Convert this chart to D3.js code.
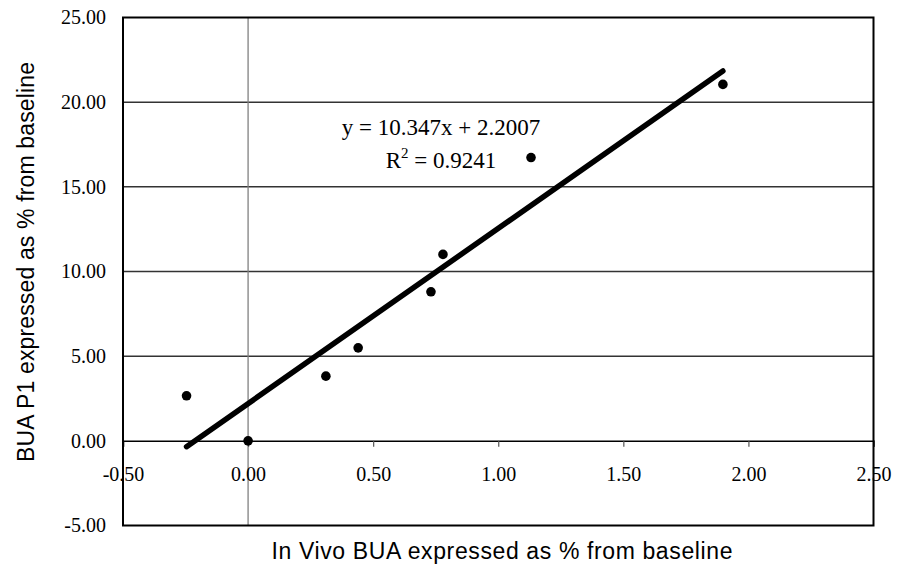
<!DOCTYPE html>
<html>
<head>
<meta charset="utf-8">
<script src="https://cdn.jsdelivr.net/npm/d3@7"></script>
<style>
  body { margin: 0; background: #fff; }
  svg { display: block; }
</style>
</head>
<body>
<svg id="chart" width="904" height="574"></svg>
<script>
// data
const xVals = [-0.246, 0.0, 0.311, 0.44, 0.731, 0.779, 1.131, 1.898];
const yVals = [2.66, 0.0, 3.82, 5.49, 8.80, 11.01, 16.73, 21.05];
const xTicks = [-0.5, 0, 0.5, 1.0, 1.5, 2.0, 2.5];
const yTicks = [-5, 0, 5, 10, 15, 20, 25];
const slope = 10.347;
const intercept = 2.2007;
const rSquared = '0.9241';

const svg = d3.select('#chart');
const plotL = 123, plotR = 873.5, plotT = 17.5, plotB = 525.5;

const x = d3.scaleLinear().domain([-0.5, 2.5]).range([plotL, plotR]);
const y = d3.scaleLinear().domain([-5, 25]).range([plotB, plotT]);

const serif = 'Liberation Serif, Times New Roman, serif';
const sans = 'Liberation Sans, Arial, sans-serif';
// plain hyphen for negatives, like the original
const fmt = d => d.toFixed(2);

// horizontal gridlines
svg.append('g')
  .selectAll('line')
  .data(yTicks.filter(d => d > 0 && d < 25))
  .join('line')
  .attr('x1', plotL)
  .attr('x2', plotR)
  .attr('y1', d => y(d))
  .attr('y2', d => y(d))
  .attr('stroke', '#333')
  .attr('stroke-width', 1.5);

// vertical line at x = 0
svg.append('line')
  .attr('x1', x(0))
  .attr('x2', x(0))
  .attr('y1', plotT)
  .attr('y2', plotB)
  .attr('stroke', '#808080')
  .attr('stroke-width', 1.3);

// x axis through y = 0
const xAxis = d3.axisBottom(x)
  .tickValues(xTicks)
  .tickSize(6)
  .tickFormat(fmt);
const gx = svg.append('g')
  .attr('transform', `translate(0,${y(0)})`)
  .call(xAxis);
gx.select('.domain').attr('stroke', '#000').attr('stroke-width', 1.5);
gx.selectAll('.tick line').attr('stroke', '#555').attr('stroke-width', 1.2);
gx.selectAll('.tick text')
  .attr('y', 40)
  .attr('dy', 0)
  .style('font-family', serif)
  .style('font-size', '20px')
  .attr('fill', '#000');

// y tick labels
const yAxis = d3.axisLeft(y)
  .tickValues(yTicks)
  .tickSize(0)
  .tickPadding(17)
  .tickFormat(fmt);
const gy = svg.append('g')
  .attr('transform', `translate(${plotL},0)`)
  .call(yAxis);
gy.select('.domain').remove();
gy.selectAll('.tick text')
  .style('font-family', serif)
  .style('font-size', '20px')
  .attr('fill', '#000');

// plot border
svg.append('rect')
  .attr('x', plotL)
  .attr('y', plotT)
  .attr('width', plotR - plotL)
  .attr('height', plotB - plotT)
  .attr('fill', 'none')
  .attr('stroke', '#000')
  .attr('stroke-width', 2);

// trendline over the data range
const xMin = d3.min(xVals), xMax = d3.max(xVals);
svg.append('line')
  .attr('x1', x(xMin))
  .attr('y1', y(slope * xMin + intercept))
  .attr('x2', x(xMax))
  .attr('y2', y(slope * xMax + intercept))
  .attr('stroke', '#000')
  .attr('stroke-width', 5.5)
  .attr('stroke-linecap', 'round');

// points
svg.append('g')
  .selectAll('circle')
  .data(xVals.map((d, i) => [d, yVals[i]]))
  .join('circle')
  .attr('cx', d => x(d[0]))
  .attr('cy', d => y(d[1]))
  .attr('r', 4.8)
  .attr('fill', '#000');

// equation label
const eq = svg.append('g')
  .style('font-family', serif)
  .style('font-size', '23px')
  .attr('text-anchor', 'middle');
eq.append('text')
  .attr('x', 441)
  .attr('y', 135)
  .text(`y = ${slope}x + ${intercept}`);
const r2 = eq.append('text')
  .attr('x', 441)
  .attr('y', 168);
r2.append('tspan').text('R');
r2.append('tspan').attr('dy', -10).style('font-size', '15px').text('2');
r2.append('tspan').attr('dy', 10).text(` = ${rSquared}`);

// axis titles
svg.append('text')
  .attr('x', 502)
  .attr('y', 559)
  .attr('text-anchor', 'middle')
  .attr('textLength', 461)
  .style('font-family', sans)
  .style('font-size', '23px')
  .text('In Vivo BUA expressed as % from baseline');

svg.append('text')
  .attr('transform', 'translate(34,262) rotate(-90)')
  .attr('text-anchor', 'middle')
  .attr('textLength', 400)
  .style('font-family', sans)
  .style('font-size', '23px')
  .text('BUA P1 expressed as % from baseline');
</script>
</body>
</html>
